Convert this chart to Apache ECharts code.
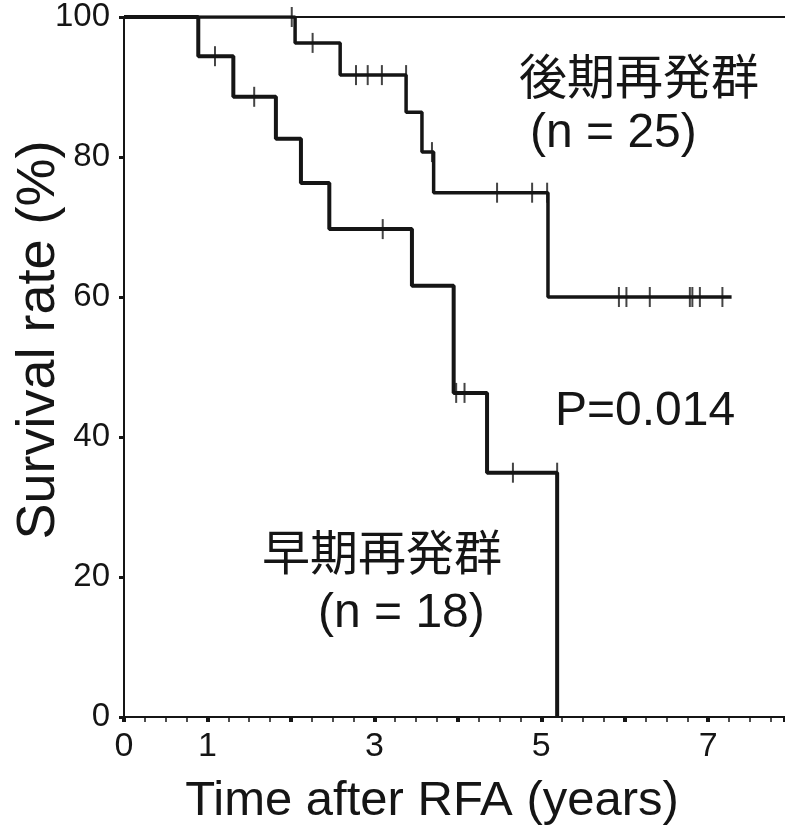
<!DOCTYPE html>
<html>
<head>
<meta charset="utf-8">
<script src="https://cdn.jsdelivr.net/npm/echarts@6/dist/echarts.min.js"></script>
<style>
  html, body { margin: 0; padding: 0; background: #fff; }
  #chart { width: 785px; height: 832px; }
</style>
</head>
<body>
<div id="chart"></div>
<script>
// Kaplan-Meier data (time in years, survival in %)
const earlyEventTimes = [0.89, 1.31, 1.82, 2.12, 2.46, 3.45, 3.95, 4.35, 5.19];
const earlySurvival   = [94.4, 88.6, 82.6, 76.3, 69.7, 61.6, 46.3, 34.9, 0];
const earlyCensored   = [1.09, 1.56, 3.10, 3.98, 4.08, 4.66, 5.19];

const lateEventTimes = [2.05, 2.59, 3.38, 3.57, 3.71, 5.08];
const lateSurvival   = [96.3, 91.7, 86.4, 80.7, 74.9, 60.0];
const lateCensored   = [2.01, 2.26, 2.78, 2.92, 3.09, 3.38, 3.69, 4.47, 4.89, 5.07,
                        5.93, 6.02, 6.30, 6.78, 6.81, 6.90, 7.17];
const lateFollowUpEnd = 7.28;

const xTickLabels = [0, 1, 3, 5, 7];
const yTicks = [0, 20, 40, 60, 80, 100];

const INK = '#151515';
const FONT = '"Liberation Sans", Arial, sans-serif';
const JP = '"Noto Sans CJK JP", sans-serif';

// step curve: start at 100%, drop at each event
const stepData = (times, surv, end) => {
  const pts = [[0, 100]];
  times.forEach((t, i) => pts.push([t, surv[i]]));
  if (end != null) pts.push([end, surv[surv.length - 1]]);
  return pts;
};

// survival level at a censor time (events at exactly that time not applied yet)
const levelAt = (t, times, surv) => {
  let s = 100;
  times.forEach((et, i) => { if (et < t) s = surv[i]; });
  return s;
};

const censorData = (cens, times, surv) => cens.map(t => [t, levelAt(t, times, surv)]);

const chart = echarts.init(document.getElementById('chart'));

const censorSeries = (name, data) => ({
  name: name,
  type: 'scatter',
  data: data,
  symbol: 'rect',
  symbolSize: [2, 20],
  itemStyle: { color: INK },
  z: 5
});

chart.setOption({
  backgroundColor: '#fff',
  animation: false,
  grid: { left: 124, right: 0, top: 17, bottom: 115, containLabel: false, outerBoundsMode: 'none' },
  xAxis: [{
    type: 'value',
    min: 0,
    max: 7.92,
    interval: 1,
    name: 'Time after RFA (years)',
    nameLocation: 'middle',
    nameGap: 60,
    nameMoveOverlap: false,
    nameTextStyle: { fontFamily: FONT, fontSize: 49, color: INK, padding: [0, 45, 0, 0] },
    axisLine: { lineStyle: { color: INK, width: 2 } },
    axisTick: { show: true, length: 5, lineStyle: { color: INK, width: 4 } },
    minorTick: { show: true, splitNumber: 4, length: 5, lineStyle: { color: INK, width: 1.5 } },
    splitLine: { show: false },
    axisLabel: {
      fontFamily: FONT, fontSize: 34, color: INK, margin: 13, showMaxLabel: false,
      formatter: v => xTickLabels.includes(v) ? String(v) : ''
    }
  }, {
    type: 'value',
    position: 'top',
    min: 0,
    max: 7.92,
    axisLine: { show: true, onZero: false, lineStyle: { color: INK, width: 2 } },
    axisTick: { show: false },
    axisLabel: { show: false },
    splitLine: { show: false }
  }],
  yAxis: {
    type: 'value',
    min: 0,
    max: 100,
    interval: 20,
    name: 'Survival rate (%)',
    nameLocation: 'middle',
    nameGap: 58,
    nameMoveOverlap: false,
    nameTextStyle: { fontFamily: FONT, fontSize: 54, color: INK, padding: [0, 0, 0, 54] },
    axisLine: { show: true, lineStyle: { color: INK, width: 2 } },
    axisTick: { show: true, length: 5, lineStyle: { color: INK, width: 3 } },
    splitLine: { show: false },
    axisLabel: {
      fontFamily: FONT, fontSize: 33, color: INK, margin: 14,
      formatter: v => yTicks.includes(v) ? String(v) : ''
    }
  },
  series: [
    {
      name: '早期再発群',
      type: 'line',
      step: 'end',
      data: stepData(earlyEventTimes, earlySurvival),
      symbol: 'none',
      lineStyle: { color: INK, width: 4 },
      z: 4
    },
    {
      name: '後期再発群',
      type: 'line',
      step: 'end',
      data: stepData(lateEventTimes, lateSurvival, lateFollowUpEnd),
      symbol: 'none',
      lineStyle: { color: INK, width: 3.5 },
      z: 4
    },
    censorSeries('早期再発群 censored', censorData(earlyCensored, earlyEventTimes, earlySurvival)),
    censorSeries('後期再発群 censored', censorData(lateCensored, lateEventTimes, lateSurvival))
  ],
  graphic: [
    { type: 'text', left: 519, top: 52,
      style: { text: '後期再発群', font: '48px ' + JP, fill: INK } },
    { type: 'text', left: 530, top: 110,
      style: { text: '(n = 25)', font: '48px ' + FONT, fill: INK } },
    { type: 'text', left: 555, top: 388,
      style: { text: 'P=0.014', font: '48px ' + FONT, fill: INK } },
    { type: 'text', left: 262, top: 528,
      style: { text: '早期再発群', font: '48px ' + JP, fill: INK } },
    { type: 'text', left: 318, top: 590,
      style: { text: '(n = 18)', font: '48px ' + FONT, fill: INK } }
  ]
});
</script>
</body>
</html>
